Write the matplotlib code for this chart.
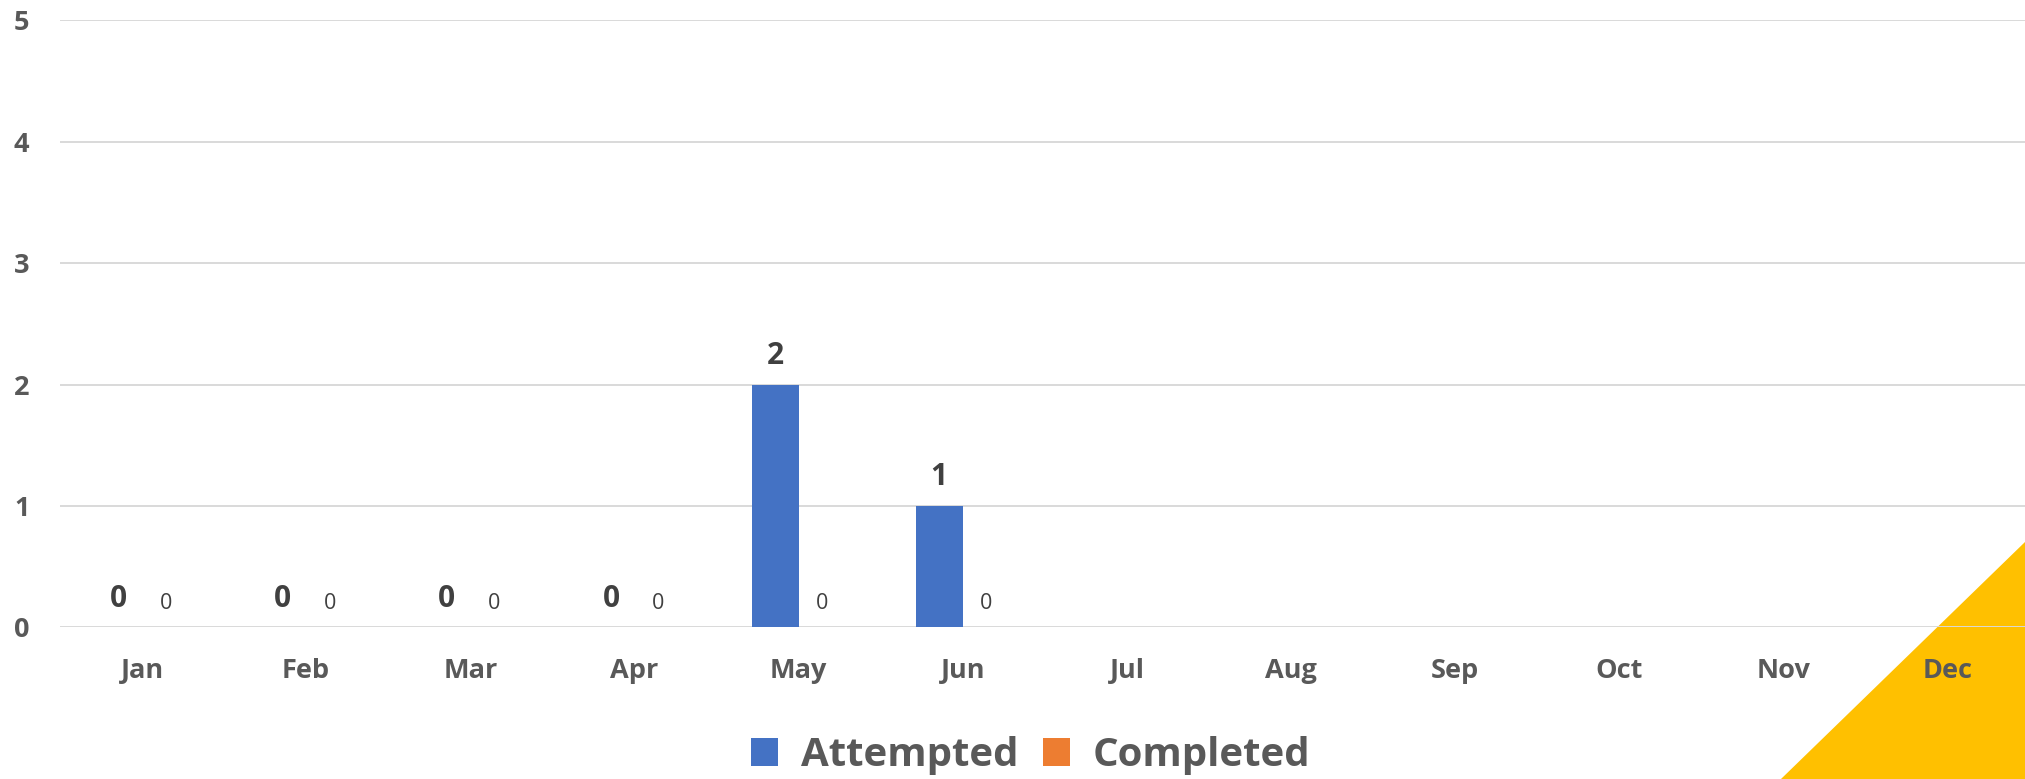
import matplotlib.pyplot as plt
import matplotlib.patches as patches
import numpy as np

# Datos
months = ['Jan', 'Feb', 'Mar', 'Apr', 'May', 'Jun',
          'Jul', 'Aug', 'Sep', 'Oct', 'Nov', 'Dec']
attempted = [0, 0, 0, 0, 2, 1, np.nan, np.nan, np.nan, np.nan, np.nan, np.nan]
completed = [0, 0, 0, 0, 0, 0, np.nan, np.nan, np.nan, np.nan, np.nan, np.nan]
y_ticks = [0, 1, 2, 3, 4, 5]

plt.rcParams['font.family'] = ['Open Sans', 'DejaVu Sans']
text_gray = '#595959'
blue = '#4472C4'
orange = '#ED7D31'

fig = plt.figure(figsize=(20.25, 7.79), dpi=100)

# Triángulo amarillo de fondo (esquina inferior derecha)
tri = patches.Polygon([(1781 / 2025, 0), (1.0, 1 - 542 / 779), (1.0, 0)],
                      closed=True, transform=fig.transFigure,
                      facecolor='#FFC000', edgecolor='none', zorder=-5)
fig.patches.append(tri)

ax = fig.add_axes([0.0296, 0.1945, 0.9728, 0.7792])
ax.set_facecolor('none')

x = np.arange(len(months))
w = 0.287
ax.bar(x - w / 2, attempted, w, color=blue, zorder=3)
ax.bar(x + w / 2, completed, w, color=orange, zorder=3)

# Etiquetas de datos
for i in range(len(months)):
    if not np.isnan(attempted[i]):
        ax.annotate(f'{int(attempted[i])}', xy=(x[i] - w / 2, attempted[i]),
                    xytext=(0, 15), textcoords='offset points',
                    ha='center', va='baseline', fontsize=21.5,
                    fontweight='bold', color='#404040')
    if not np.isnan(completed[i]):
        ax.annotate(f'{int(completed[i])}', xy=(x[i] + w / 2, completed[i]),
                    xytext=(0, 13), textcoords='offset points',
                    ha='center', va='baseline', fontsize=15.5,
                    color='#404040')

ax.set_xlim(-0.5, len(months) - 0.5)
ax.set_ylim(0, 5)
ax.set_yticks(y_ticks)
ax.set_xticks(x)
ax.set_xticklabels(months)
ax.tick_params(axis='both', length=0, labelsize=19.5, labelcolor=text_gray)
ax.tick_params(axis='x', pad=22)
ax.tick_params(axis='y', pad=22)
for lab in ax.get_xticklabels() + ax.get_yticklabels():
    lab.set_fontweight('bold')

ax.grid(axis='y', color='#D9D9D9', linewidth=1.4, zorder=1)
ax.set_axisbelow(True)
for s in ax.spines.values():
    s.set_visible(False)

# Leyenda
handles = [patches.Patch(facecolor=blue, label='Attempted'),
           patches.Patch(facecolor=orange, label='Completed')]
leg = fig.legend(handles=handles, loc='center', bbox_to_anchor=(0.509, 0.030),
                 ncol=2, frameon=False, handlelength=0.66, handleheight=0.66,
                 handletextpad=0.57, columnspacing=0.62,
                 prop={'size': 29, 'weight': 'bold'})
for t in leg.get_texts():
    t.set_color(text_gray)

plt.savefig('out.png', dpi=100)
plt.close()
